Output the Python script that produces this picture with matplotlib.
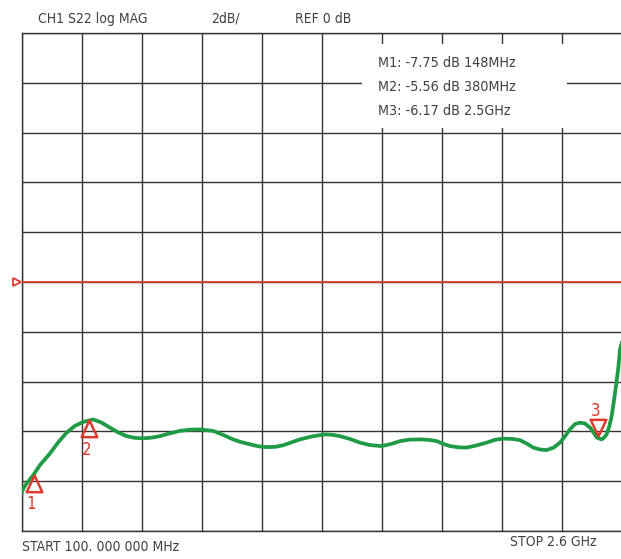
import matplotlib
matplotlib.use("Agg")
import matplotlib.pyplot as plt
import matplotlib.transforms as mtrans
from matplotlib import font_manager
from matplotlib.path import Path
from matplotlib.patches import Rectangle

# ---- data ----
freq_mhz = [100, 105, 120, 146, 175, 217, 250, 286, 320, 355, 397, 430, 467, 500, 536,
            570, 604, 640, 675, 715, 758, 800, 842, 896, 940, 979, 1010, 1050, 1085,
            1120, 1155, 1187, 1220, 1258, 1310, 1362, 1395, 1425, 1465, 1508, 1550,
            1599, 1640, 1675, 1715, 1758, 1795, 1828, 1855, 1883, 1920, 1953, 1995,
            2036, 2070, 2104, 2140, 2175, 2205, 2230, 2260, 2286, 2315, 2342, 2362,
            2383, 2405, 2425, 2445, 2467, 2482, 2495, 2515, 2525, 2536, 2547, 2557,
            2566, 2575, 2584, 2592, 2600]
s22_db = [-8.45, -8.30, -8.08, -7.77, -7.35, -6.88, -6.45, -6.05, -5.78, -5.62, -5.52,
          -5.64, -5.85, -6.04, -6.19, -6.26, -6.28, -6.25, -6.19, -6.08, -5.98, -5.93,
          -5.92, -5.98, -6.15, -6.32, -6.42, -6.52, -6.60, -6.63, -6.62, -6.56, -6.45,
          -6.32, -6.20, -6.12, -6.14, -6.19, -6.30, -6.45, -6.55, -6.59, -6.50, -6.39,
          -6.33, -6.32, -6.34, -6.39, -6.50, -6.59, -6.64, -6.65, -6.56, -6.45, -6.34,
          -6.29, -6.30, -6.35, -6.50, -6.65, -6.73, -6.75, -6.65, -6.45, -6.20, -5.92,
          -5.70, -5.65, -5.68, -5.85, -6.05, -6.25, -6.32, -6.25, -6.12, -5.80, -5.38,
          -4.80, -4.17, -3.50, -2.70, -2.41]
marker_freq = [148, 380, 2500]
marker_db = [-7.75, -5.56, -6.17]
marker_names = ["1", "2", "3"]
marker_lines = ["M1: -7.75 dB 148MHz", "M2: -5.56 dB 380MHz", "M3: -6.17 dB 2.5GHz"]
header = ["CH1 S22 log MAG", "2dB/", "REF 0 dB"]
footer = ["START 100. 000 000 MHz", "STOP 2.6 GHz"]
f_start, f_stop = 100, 2600
ref_db = 0
db_per_div = 2

W, H = 621, 559
GRID = "#3a3232"
RED = "#e0392b"
GREEN = "#1f9a45"
TXT = "#463e3e"

# find a narrow / condensed face if one is installed
narrow = None
for fe in font_manager.fontManager.ttflist:
    nm = (fe.name + " " + fe.fname).lower()
    if ("narrow" in nm or "condensed" in nm) and "bold" not in nm and "italic" not in nm \
            and "oblique" not in nm:
        if "sans" in nm or "liberation" in nm:
            narrow = fe.fname
            break

def fprops(size):
    if narrow:
        return font_manager.FontProperties(fname=narrow, size=size)
    return font_manager.FontProperties(family="DejaVu Sans", stretch="condensed", size=size)

fig = plt.figure(figsize=(W / 100, H / 100), dpi=100)
fig.patch.set_facecolor("white")
ax = fig.add_axes([22 / W, (H - 531) / H, 600 / W, 498 / H])
ax.set_xlim(f_start, f_stop)
ax.set_ylim(ref_db - 5 * db_per_div, ref_db + 5 * db_per_div)
step = (f_stop - f_start) / 10
ax.set_xticks([f_start + i * step for i in range(11)])
ax.set_yticks([ref_db - 5 * db_per_div + i * db_per_div for i in range(11)])
ax.tick_params(length=0, labelbottom=False, labelleft=False)
ax.grid(True, color=GRID, lw=1.0, zorder=1)
ax.set_axisbelow(True)
for s in ax.spines.values():
    s.set_color(GRID)
    s.set_linewidth(1.0)
ax.spines["right"].set_visible(False)

# white box behind marker readout
ax.add_patch(Rectangle((1517, 6.2), 2371 - 1517, 9.55 - 6.2, facecolor="white",
                       edgecolor="none", zorder=2))

# reference line and pointer
ax.axhline(ref_db, color=RED, lw=1.2, zorder=3)
ptr, = ax.plot([f_start], [ref_db], marker=">", ms=6, mfc="none", mec=RED, mew=1.3,
               clip_on=False, zorder=4)
ptr.set_transform(ax.transData + mtrans.ScaledTranslation(-5 / 100, 0, fig.dpi_scale_trans))

# trace
ax.plot(freq_mhz, s22_db, color=GREEN, lw=2.7, zorder=5, solid_joinstyle="round",
        solid_capstyle="round")

# marker triangles with apex on the trace
up = Path([(0, 0), (-0.47, -1), (0.47, -1), (0, 0)],
          [Path.MOVETO, Path.LINETO, Path.LINETO, Path.CLOSEPOLY])
down = Path([(0, 0), (-0.47, 1), (0.47, 1), (0, 0)],
            [Path.MOVETO, Path.LINETO, Path.LINETO, Path.CLOSEPOLY])
for i, (f, d, n) in enumerate(zip(marker_freq, marker_db, marker_names)):
    p = up if i < 2 else down
    ax.plot([f], [d], marker=p, ms=24, mfc="none", mec=RED, mew=1.8, zorder=6)
    dy = -21 if i < 2 else 18
    ax.annotate(n, (f, d), xytext=(-2, dy), textcoords="offset points",
                ha="center", va="center", color=RED, fontproperties=fprops(12),
                zorder=6)

def ptext(x, y, s, ha="left", size=11):
    fig.text(x / W, 1 - y / H, s, ha=ha, va="center", color=TXT,
             fontproperties=fprops(size))

ptext(93, 19, header[0], ha="center", size=10)
ptext(225, 19, header[1], ha="center", size=10)
ptext(323, 19, header[2], ha="center", size=10)
for k, line in enumerate(marker_lines):
    ptext(378, 63 + 24 * k, line, size=10.3)
ptext(22, 547, footer[0], size=10)
ptext(553, 542, footer[1], ha="center", size=10)

fig.savefig("out.png", dpi=100, facecolor="white")
